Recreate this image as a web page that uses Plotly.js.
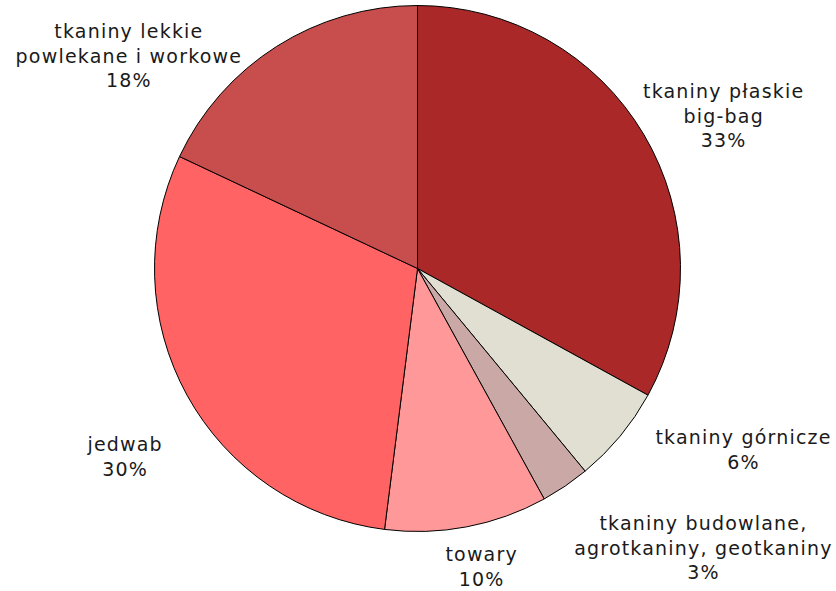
<!DOCTYPE html>
<html>
<head>
<meta charset="utf-8">
<script src="https://cdn.plot.ly/plotly-3.0.1.min.js"></script>
<style>
html,body{margin:0;padding:0;background:#fff;}
#chart{width:836px;height:591px;}
#chart .annotation-text{letter-spacing:1.2px;}
</style>
</head>
<body>
<div id="chart"></div>
<script>
// Data
const categories = [
  "tkaniny płaskie<br>big-bag",
  "tkaniny górnicze",
  "tkaniny budowlane,<br>agrotkaniny, geotkaniny",
  "towary",
  "jedwab",
  "tkaniny lekkie<br>powlekane i workowe"
];
const shares = [33, 6, 3, 10, 30, 18];
const colors = ["#AA2828", "#E0DFD1", "#C9A8A6", "#FF9999", "#FF6363", "#C84D4D"];

// Label placement (pixel centres in the 836x591 frame)
const labelPos = [[723, 115], [743, 450], [703, 547], [481, 566], [124, 457], [129, 55]];

const W = 836, H = 591;
const cx = 417.5, cy = 268.5, r = 263;

const annotations = categories.map((c, i) => ({
  text: c + "<br>" + shares[i] + "%",
  x: labelPos[i][0] / W,
  y: 1 - labelPos[i][1] / H,
  xref: "paper", yref: "paper",
  xanchor: "center", yanchor: "middle",
  showarrow: false,
  align: "center",
  font: {family: "DejaVu Sans, Verdana, sans-serif", size: 19, color: "#1a1a1a"}
}));

const trace = {
  type: "pie",
  values: shares,
  labels: categories,
  sort: false,
  direction: "clockwise",
  rotation: 0,
  textinfo: "none",
  hoverinfo: "label+percent",
  marker: {colors: colors, line: {color: "#000", width: 1}},
  domain: {x: [(cx - r) / W, (cx + r) / W], y: [1 - (cy + r) / H, 1 - (cy - r) / H]},
  showlegend: false
};

Plotly.newPlot("chart", [trace], {
  width: W, height: H,
  margin: {l: 0, r: 0, t: 0, b: 0},
  paper_bgcolor: "#fff",
  showlegend: false,
  annotations: annotations
}, {staticPlot: true});
</script>
</body>
</html>
